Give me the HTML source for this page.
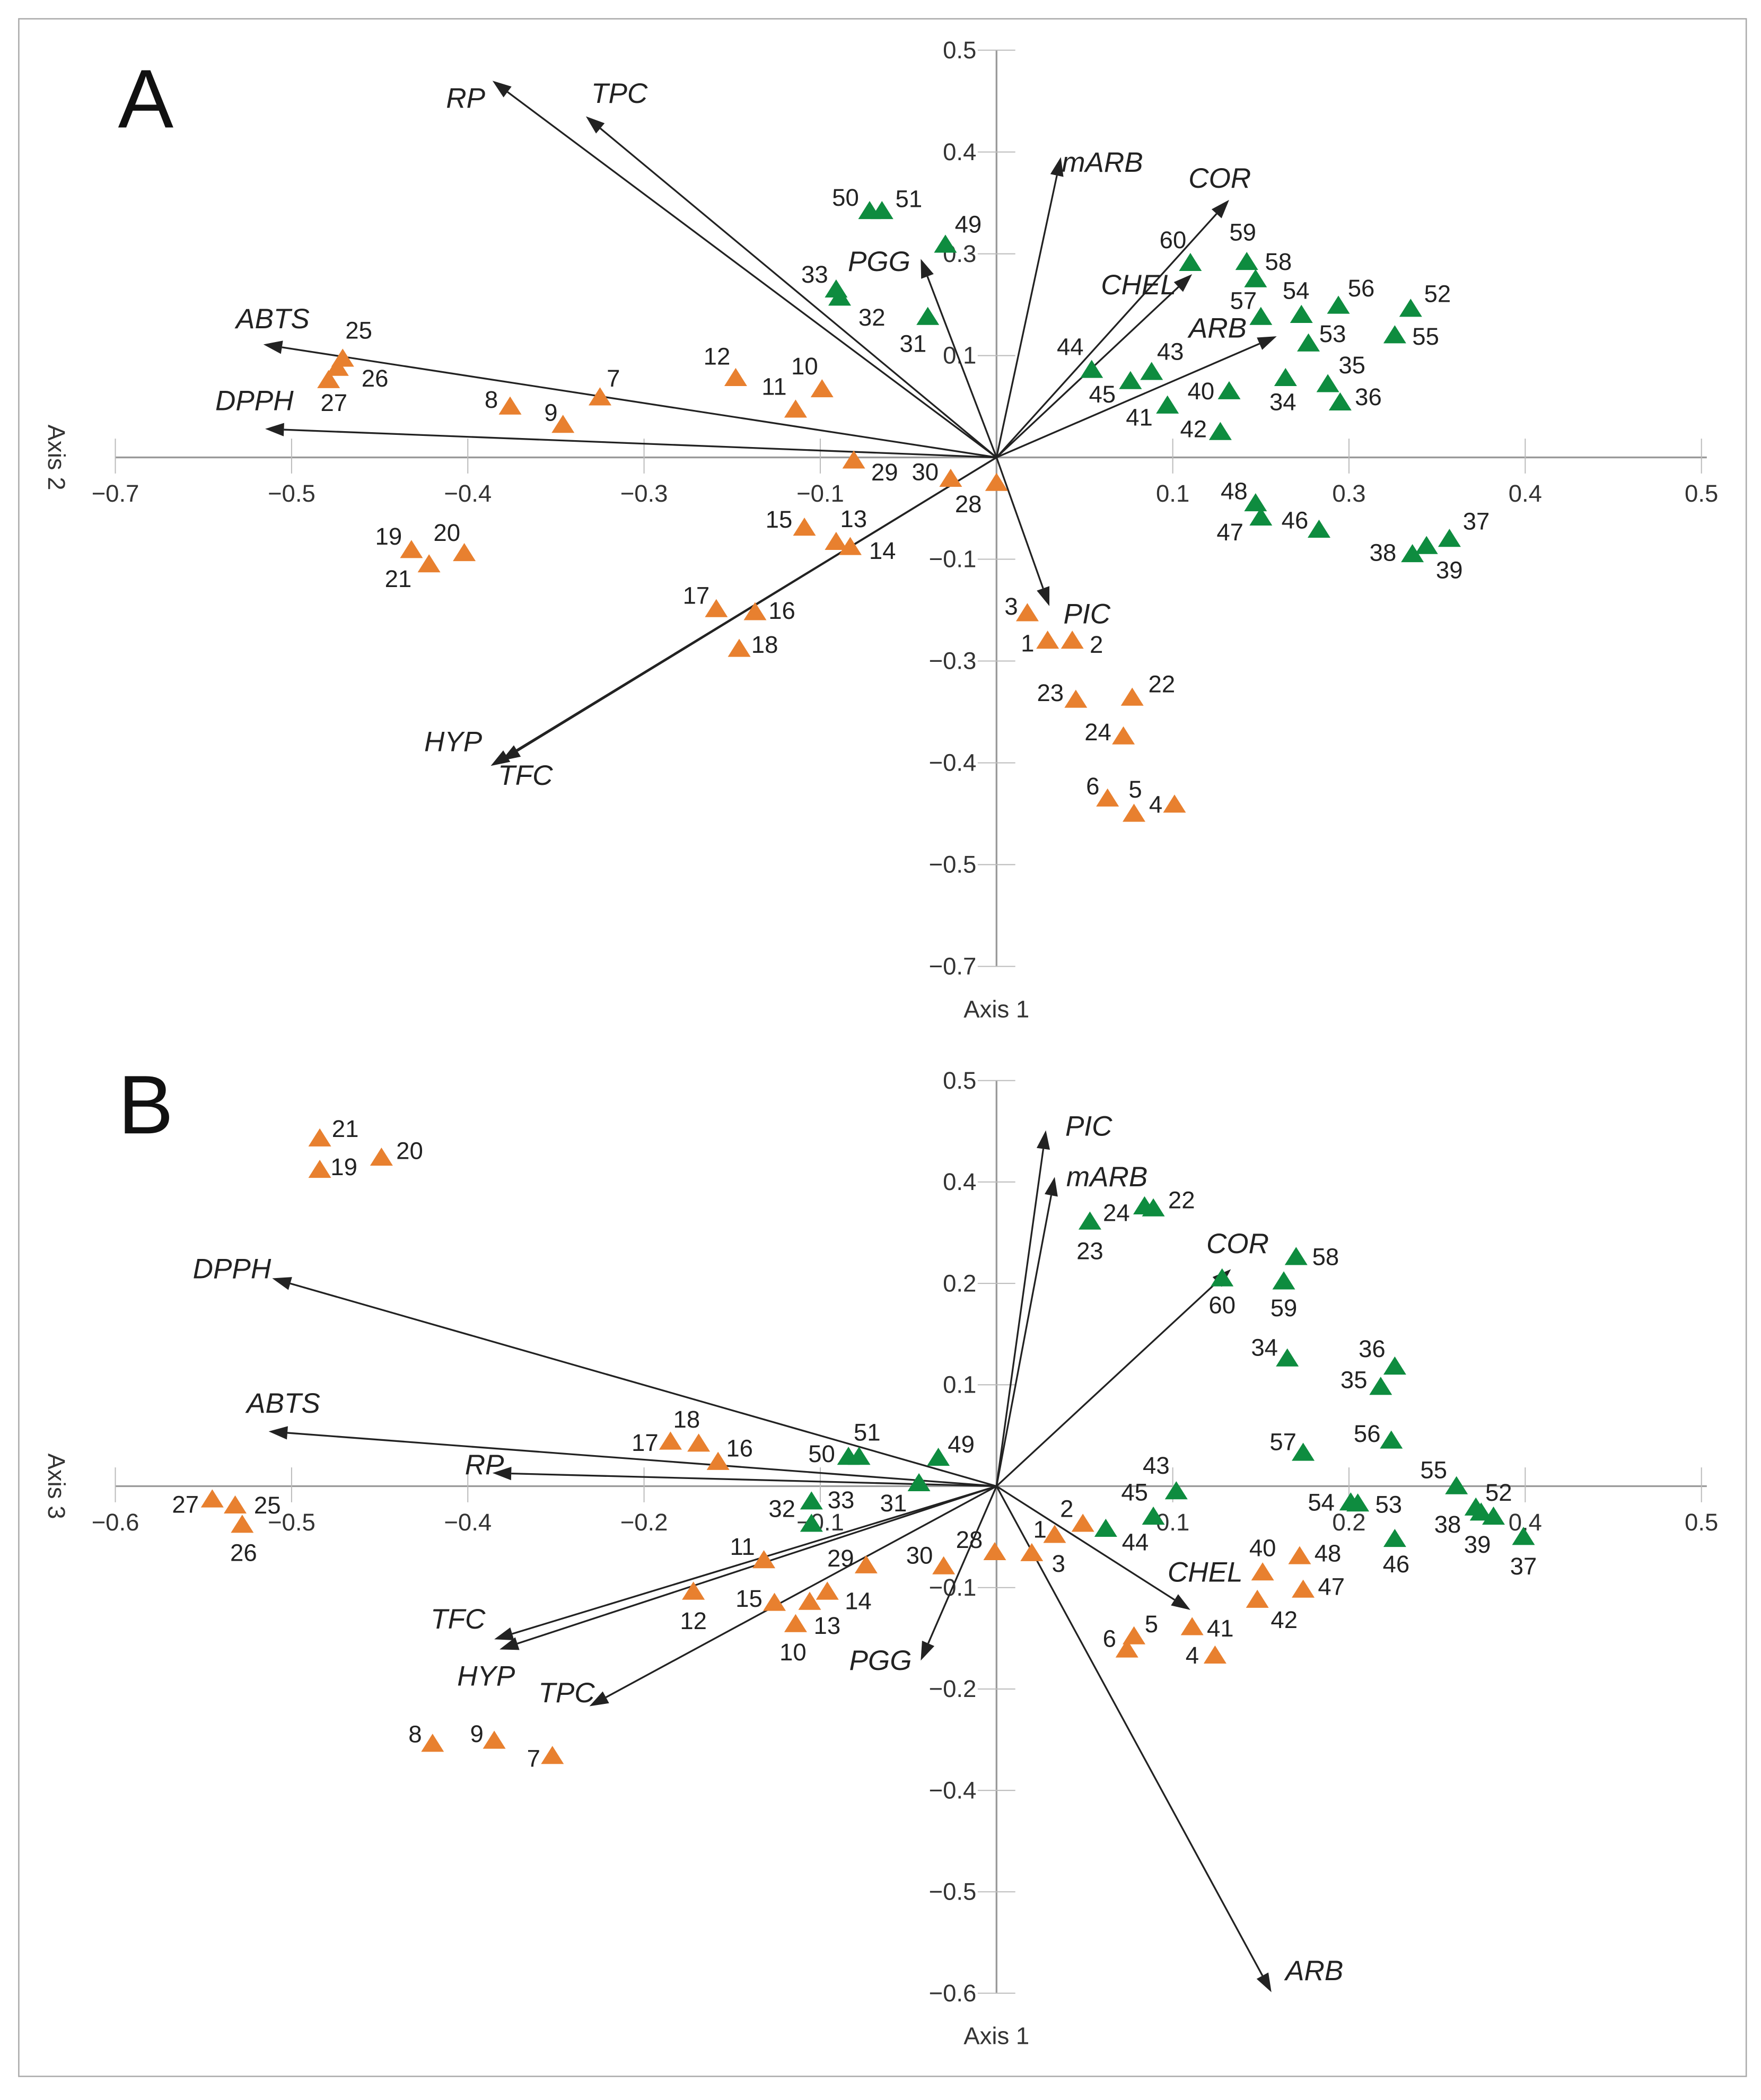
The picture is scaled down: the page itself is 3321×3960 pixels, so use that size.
<!DOCTYPE html>
<html><head><meta charset="utf-8"><style>
html,body{margin:0;padding:0;background:#fff;}
svg{display:block;}
text{font-family:"Liberation Sans",Arial,sans-serif;}
</style></head><body>
<svg id="fig" xmlns="http://www.w3.org/2000/svg" width="3321" height="3960" viewBox="0 0 1313 1565.6">
<rect x="0" y="0" width="1313" height="1566" fill="#fff"/>
<rect x="14" y="14" width="1288" height="1534" fill="none" stroke="#aaa" stroke-width="1"/>
<g id="pa"></g>
<g id="pb"></g>
</svg>
<script>
// ---------- Panel A data ----------
const aIds=[25,26,27,7,8,9,12,11,10,29,30,28,15,13,14,17,16,18,19,21,20,3,1,2,23,22,24,6,5,4,
50,51,49,33,32,31,60,59,58,57,54,56,52,55,53,35,36,34,44,43,45,40,41,42,48,47,46,37,38,39];
const aX=[-0.371,-0.374,-0.379,-0.225,-0.276,-0.246,-0.148,-0.114,-0.099,-0.081,-0.026,0,-0.109,-0.091,-0.083,-0.159,-0.137,-0.146,-0.332,-0.322,-0.302,0.0175,0.029,0.043,0.045,0.077,0.072,0.063,0.078,0.101,
-0.072,-0.065,-0.029,-0.091,-0.089,-0.039,0.110,0.142,0.147,0.150,0.173,0.194,0.235,0.226,0.177,0.188,0.195,0.164,0.054,0.088,0.076,0.132,0.097,0.127,0.147,0.150,0.183,0.257,0.236,0.244];
const aY=[0.097,0.088,0.076,0.059,0.050,0.032,0.078,0.047,0.067,-0.003,-0.021,-0.025,-0.069,-0.083,-0.088,-0.149,-0.152,-0.188,-0.091,-0.105,-0.094,-0.153,-0.180,-0.180,-0.238,-0.236,-0.274,-0.335,-0.350,-0.341,
0.242,0.242,0.209,0.165,0.157,0.138,0.191,0.192,0.175,0.138,0.140,0.149,0.146,0.120,0.112,0.072,0.054,0.078,0.086,0.084,0.075,0.065,0.051,0.025,-0.045,-0.059,-0.071,-0.080,-0.095,-0.087];
const aGroup=[0,0,0,0,0,0,0,0,0,0,0,0,0,0,0,0,0,0,0,0,0,0,0,0,0,0,0,0,0,0,
1,1,1,1,1,1,1,1,1,1,1,1,1,1,1,1,1,1,1,1,1,1,1,1,1,1,1,1,1,1];
const aLabOff=[[12,-21],[28,8],[4,17],[10,-14],[-14,-5],[-9,-9],[-14,-16],[-16,-17],[-13,-17],[23,9],[-19,-5],[-21,16],[-19,-6],[13,-17],[24,3],[-15,-10],[20,-1],[19,-3],[-17,-10],[-23,11],[-13,-15],[-12,-5],[-15,2],[18,3],[-19,-5],[22,-10],[-19,-3],[-11,-9],[1,-18],[-14,0],
[-18,-10],[20,-9],[17,-15],[-16,-11],[24,15],[-11,20],[-13,-17],[-3,-22],[17,-13],[-13,-12],[-4,-18],[17,-13],[20,-11],[23,1],[18,-7],[18,-14],[21,-4],[-2,18],[-16,-17],[14,-15],[-21,10],[-21,0],[-21,9],[-20,-2],[-16,-9],[-23,11],[-18,-7],[20,-13],[-22,-1],[17,18]];
const aVars=["RP","TPC","mARB","COR","PGG","CHEL","ARB","ABTS","DPPH","HYP","TFC","PIC"];
const aVX=[-0.286,-0.233,0.0365,0.132,-0.043,0.111,0.159,-0.416,-0.415,-0.287,-0.281,0.030];
const aVY=[0.370,0.335,0.295,0.253,0.195,0.180,0.119,0.111,0.028,-0.303,-0.298,-0.146];
const aVarOff=[[-20,13],[25,-17],[31,4],[-7,-16],[-31,2],[-40,8],[-44,-6],[7,-19],[-8,-21],[-28,-18],[18,11],[28,6]];
const aXTicks=["\u22120.7","\u22120.5","\u22120.4","\u22120.3","\u22120.1","","0.1","0.3","0.4","0.5"];
const aYTicks=["0.5","0.4","0.3","0.1","","\u22120.1","\u22120.3","\u22120.4","\u22120.5","\u22120.7"];

// ---------- Panel B data ----------
const bIds=[21,19,20,27,25,26,17,18,16,11,29,30,28,1,2,3,12,15,14,13,10,8,9,7,5,6,41,4,40,48,42,47,
23,24,22,60,58,59,34,36,35,57,56,50,51,49,31,33,32,45,43,44,54,53,46,55,52,38,39,37];
const bX=[-0.384,-0.384,-0.349,-0.445,-0.432,-0.428,-0.185,-0.169,-0.158,-0.132,-0.074,-0.030,-0.001,0.033,0.049,0.020,-0.172,-0.126,-0.096,-0.106,-0.114,-0.320,-0.285,-0.252,0.078,0.074,0.111,0.124,0.151,0.172,0.148,0.174,
0.053,0.084,0.089,0.128,0.170,0.163,0.165,0.226,0.218,0.174,0.224,-0.084,-0.078,-0.033,-0.044,-0.105,-0.105,0.089,0.102,0.062,0.201,0.205,0.226,0.261,0.272,0.275,0.282,0.299];
const bY=[0.343,0.312,0.324,-0.013,-0.019,-0.038,0.044,0.042,0.024,-0.073,-0.078,-0.079,-0.065,-0.048,-0.037,-0.066,-0.104,-0.115,-0.104,-0.114,-0.136,-0.254,-0.251,-0.266,-0.148,-0.161,-0.139,-0.167,-0.085,-0.069,-0.112,-0.102,
0.261,0.276,0.274,0.205,0.226,0.202,0.126,0.118,0.098,0.033,0.045,0.029,0.029,0.028,0.003,-0.015,-0.037,-0.030,-0.005,-0.042,-0.016,-0.017,-0.052,0.000,-0.021,-0.026,-0.030,-0.050];
const bGroup=[0,0,0,0,0,0,0,0,0,0,0,0,0,0,0,0,0,0,0,0,0,0,0,0,0,0,0,0,0,0,0,0,
1,1,1,1,1,1,1,1,1,1,1,1,1,1,1,1,1,1,1,1,1,1,1,1,1,1,1,1,1,1];
const bLabOff=[[19,-7],[18,-2],[21,-5],[-20,4],[24,0],[1,21],[-19,1],[-9,-18],[16,-10],[-16,-10],[-19,-5],[-18,-8],[-19,-9],[-11,-4],[-12,-11],[20,8],[0,22],[-19,-3],[23,7],[13,18],[-2,21],[-13,-7],[-13,-5],[-14,2],[13,-9],[-13,-8],[21,1],[-17,0],[0,-18],[21,-2],[20,15],[21,-2],
[0,22],[-21,5],[21,-6],[0,20],[22,0],[0,20],[-17,-8],[-17,-13],[-20,-5],[-15,-8],[-18,-5],[-20,-2],[6,-18],[17,-10],[-19,15],[22,-1],[-22,-11],[-14,-18],[-15,-19],[22,10],[-22,0],[23,1],[1,19],[-17,-12],[17,-11],[-25,9],[-12,21],[0,22]];
const bVars=["PIC","mARB","COR","DPPH","ABTS","RP","TFC","HYP","TPC","PGG","CHEL","ARB"];
const bVX=[0.028,0.033,0.133,-0.411,-0.413,-0.286,-0.285,-0.282,-0.231,-0.043,0.110,0.156];
const bVY=[0.351,0.305,0.214,0.205,0.054,0.013,-0.151,-0.161,-0.217,-0.172,-0.122,-0.499];
const bVarOff=[[32,-3],[39,0],[5,-19],[-30,-7],[11,-21],[-6,-6],[-27,-15],[-10,20],[-17,-10],[-30,0],[11,-28],[32,-16]];
const bXTicks=["\u22120.6","\u22120.5","\u22120.4","\u22120.2","\u22120.1","","0.1","0.2","0.4","0.5"];
const bYTicks=["0.5","0.4","0.2","0.1","","\u22120.1","\u22120.2","\u22120.4","\u22120.5","\u22120.6"];

const NS="http://www.w3.org/2000/svg";
const COLORS=["#E8802F","#0E8C3F"];
function mk(parent,tag,attrs,txt){const e=document.createElementNS(NS,tag);for(const k in attrs)e.setAttribute(k,attrs[k]);if(txt!==undefined)e.textContent=txt;parent.appendChild(e);return e;}

function drawPanel(g,cfg){
  const ox=743, oy=cfg.oy, stepX=131.4, stepY=cfg.stepY;
  const sx=v=>ox+v*stepX*10, sy=v=>oy-v*stepY*10;
  const xa=mk(g,'line',{x1:ox-5*stepX,y1:oy,x2:ox+4*stepX+4,y2:oy,stroke:'#999','stroke-width':1.3});
  
  
  const ya=mk(g,'line',{x1:ox,y1:oy-4*stepY,x2:ox,y2:oy+5*stepY,stroke:'#999','stroke-width':1.3});
  
  
  cfg.xTicks.forEach((t,i)=>{
    const x=ox+(i-5)*stepX;
    if(i!==5){
      const tl=mk(g,'line',{x1:x,y1:oy-14,x2:x,y2:oy+12,stroke:'#bbb','stroke-width':0.8});
      
      
    }
    if(t){const tx=mk(g,'text',{x:x,y:oy+33,'text-anchor':'middle','font-size':18,fill:'#333'},t);
      
      }
  });
  cfg.yTicks.forEach((t,i)=>{
    const y=oy+(i-4)*stepY;
    if(i!==4){
      const tl=mk(g,'line',{x1:ox-14,y1:y,x2:ox+14,y2:y,stroke:'#bbb','stroke-width':0.8});
      
      
    }
    if(t){const tx=mk(g,'text',{x:ox-15,y:y+6,'text-anchor':'end','font-size':18,fill:'#333'},t);
      
      }
  });
  const xt=mk(g,'text',{x:ox,y:oy+5*stepY+38,'text-anchor':'middle','font-size':18,fill:'#333'},'Axis 1');
  
  
  const yt=mk(g,'text',{x:0,y:0,'text-anchor':'middle','font-size':18,fill:'#333',transform:`translate(36,${oy}) rotate(90)`},cfg.yTitle);
  
  
  const pl=mk(g,'text',{x:88,y:cfg.letterY,'font-size':62,fill:'#111'},cfg.letter);
  
  
  cfg.vars.forEach((name,i)=>{
    const x2=sx(cfg.vx[i]), y2=sy(cfg.vy[i]);
    const dx=x2-ox, dy=y2-oy, L=Math.hypot(dx,dy), ux=dx/L, uy=dy/L;
    const hl=14, hw=5;
    const bx=x2-ux*hl, by=y2-uy*hl;
    const ln=mk(g,'line',{x1:ox,y1:oy,x2:bx,y2:by,stroke:'#222','stroke-width':1.3});
    
    
    const hd=mk(g,'polygon',{points:`${x2},${y2} ${bx-uy*hw},${by+ux*hw} ${bx+uy*hw},${by-ux*hw}`,fill:'#222'});
    
    
    const lb=mk(g,'text',{x:x2+cfg.varOff[i][0],y:y2+cfg.varOff[i][1]+7,'text-anchor':'middle','font-size':21,'font-style':'italic',fill:'#222'},name);
    
    
  });
  cfg.ids.forEach((id,i)=>{
    const x=sx(cfg.x[i]), y=sy(cfg.y[i]);
    const tr=mk(g,'polygon',{points:`${x},${y-7.5} ${x-8.5},${y+6} ${x+8.5},${y+6}`,fill:COLORS[cfg.group[i]]});
    
    
    const lb=mk(g,'text',{x:x+cfg.off[i][0],y:y+cfg.off[i][1]+6,'text-anchor':'middle','font-size':18,fill:'#222'},String(id));
    
    
  });
}
drawPanel(document.getElementById('pa'),{oy:341,stepY:75.9,xTicks:aXTicks,yTicks:aYTicks,yTitle:'Axis 2',letter:'A',letterY:95,
  ids:aIds,x:aX,y:aY,group:aGroup,off:aLabOff,vars:aVars,vx:aVX,vy:aVY,varOff:aVarOff});
drawPanel(document.getElementById('pb'),{oy:1108,stepY:75.6,xTicks:bXTicks,yTicks:bYTicks,yTitle:'Axis 3',letter:'B',letterY:845,
  ids:bIds,x:bX,y:bY,group:bGroup,off:bLabOff,vars:bVars,vx:bVX,vy:bVY,varOff:bVarOff});
</script>
</body></html>
